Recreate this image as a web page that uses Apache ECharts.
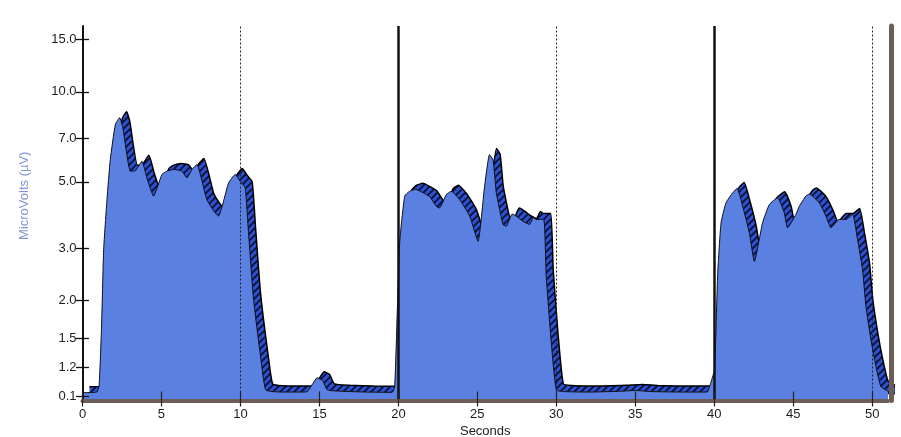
<!DOCTYPE html>
<html>
<head>
<meta charset="utf-8">
<script src="https://cdn.jsdelivr.net/npm/echarts@6/dist/echarts.min.js"></script>
<style>
  html, body { margin: 0; padding: 0; background: #fff; }
  #chart { width: 901px; height: 437px; }
</style>
</head>
<body>
<div id="chart"></div>
<script>
// 数据
var timeSec = [0, 0.9, 1.05, 1.2, 1.34, 1.55, 1.76, 2.08, 2.35, 2.55, 3.03, 3.35, 3.76, 4.1, 4.5, 5.03, 5.34, 5.8, 6.29, 6.61,
    6.93, 7.24, 7.87, 8.3, 8.61, 9.25, 9.67, 9.98, 10.3, 10.51, 10.83, 11.35, 11.6, 12.2, 13.5, 14.2, 14.6, 14.85, 15.2, 15.5,
    16.5, 18.0, 19.6, 19.77, 20.08, 20.4, 20.71, 21.1, 21.56, 22.0, 22.4, 22.61, 23.03, 23.35, 23.88, 24.51, 25.04, 25.46, 25.77, 26.0,
    26.2, 26.62, 26.83, 27.2, 27.46, 27.88, 28.3, 28.55, 28.73, 29.2, 29.36, 29.68, 30.0, 30.5, 32.0, 34.0, 35.0, 36.0, 38.0, 39.55,
    39.7, 40.01, 40.22, 40.43, 40.74, 41.17, 41.45, 41.8, 42.22, 42.54, 43.06, 43.49, 44.01, 44.43, 44.64, 45.17, 45.38, 45.8, 46.02, 46.65,
    47.07, 47.39, 47.91, 48.33, 48.76, 49.07, 49.39, 49.6, 49.92, 50.23, 50.55, 50.86, 51.0];
var microVolts = [0.25, 0.27, 0.5, 1.6, 2.97, 4.36, 5.94, 7.78, 8.2, 7.6, 5.43, 5.45, 5.86, 5.1, 4.48, 5.29, 5.43, 5.5, 5.43, 5.16,
    5.5, 5.71, 4.36, 4.0, 3.84, 4.96, 5.29, 5.02, 4.77, 3.38, 2.02, 1.21, 0.35, 0.28, 0.27, 0.28, 0.6, 0.8, 0.7, 0.35,
    0.3, 0.27, 0.26, 0.47, 3.12, 4.48, 4.65, 4.72, 4.6, 4.45, 4.14, 4.09, 4.53, 4.65, 4.36, 3.84, 3.16, 4.84, 6.17, 5.9,
    4.6, 3.6, 3.55, 3.9, 3.84, 3.69, 3.6, 3.8, 3.74, 3.74, 2.42, 1.45, 0.35, 0.29, 0.27, 0.3, 0.33, 0.29, 0.27, 0.27,
    0.47, 1.1, 2.48, 3.65, 4.25, 4.6, 4.75, 4.14, 3.38, 2.71, 3.65, 4.2, 4.42, 3.94, 3.51, 3.89, 4.14, 4.48, 4.55, 4.25,
    3.84, 3.51, 3.74, 3.74, 3.89, 3.21, 2.54, 1.92, 1.48, 1.21, 0.47, 0.35, 0.3];
var yTicks = [0.1, 1.2, 1.5, 2.0, 3.0, 5.0, 7.0, 10.0, 15.0];
var xTicks = [0, 5, 10, 15, 20, 25, 30, 35, 40, 45, 50];
var dottedAt = [10, 30, 50];
var solidAt = [20, 40];

// 纵轴刻度：1.2以上为对数，以下压缩成一小段
function toAxis(v) {
    var base = Math.log10(1.2);
    if (v >= 1.2) return Math.log10(v);
    return base - (1.2 - v) / 1.1 * 0.0994;
}
function yLabel(val) {
    for (var i = 0; i < yTicks.length; i++) {
        if (Math.abs(toAxis(yTicks[i]) - val) < 1e-6) return yTicks[i].toFixed(1);
    }
    return '';
}

var seriesData = [];
for (var i = 0; i < timeSec.length; i++) {
    seriesData.push([timeSec[i], toAxis(microVolts[i])]);
}

var yMin = -0.033, yMax = 1.2206;
var xMin = 0, xMax = 51;
var yTickPos = yTicks.map(toAxis);

// 立体边的斜纹
var pc = document.createElement('canvas');
pc.width = 7; pc.height = 7;
var pctx = pc.getContext('2d');
pctx.fillStyle = '#2c50d4';
pctx.fillRect(0, 0, 7, 7);
pctx.strokeStyle = '#0b0f2a';
pctx.lineWidth = 1.6;
pctx.beginPath();
pctx.moveTo(0, 7); pctx.lineTo(7, 0);
pctx.moveTo(-1, 1); pctx.lineTo(1, -1);
pctx.moveTo(6, 8); pctx.lineTo(8, 6);
pctx.stroke();

var labelFont = {fontFamily: 'Liberation Sans, Arial', fontSize: 13, color: '#1c1c1c'};

var markData = [];
dottedAt.forEach(function (x) {
    markData.push({xAxis: x, lineStyle: {type: [2, 2], width: 1, color: '#222'}});
});
solidAt.forEach(function (x) {
    markData.push({xAxis: x, lineStyle: {type: 'solid', width: 2.5, color: '#111'}});
});

var chart = echarts.init(document.getElementById('chart'));
var option = {
    animation: false,
    grid: [
        {left: 82.5, right: 13, top: 26, bottom: 36.5, outerBoundsMode: 'none'},
        {left: 89.5, right: 6, top: 20, bottom: 42.5, outerBoundsMode: 'none'}
    ],
    xAxis: [
        {
            type: 'value', gridIndex: 0, position: 'bottom', min: xMin, max: xMax, z: 10,
            name: 'Seconds', nameLocation: 'middle', nameGap: 20,
            nameTextStyle: labelFont,
            axisLine: {onZero: false, lineStyle: {color: '#6d5d57', width: 4}},
            axisTick: {customValues: xTicks, length: 6, lineStyle: {color: '#222', width: 1.2}},
            axisLabel: Object.assign({customValues: xTicks, margin: 7}, labelFont),
            splitLine: {show: false}
        },
        {
            type: 'value', gridIndex: 0, position: 'bottom', min: xMin, max: xMax, z: 10,
            axisLine: {show: false, onZero: false},
            axisTick: {customValues: xTicks, inside: true, length: 9, lineStyle: {color: '#222', width: 1.2}},
            axisLabel: {show: false},
            splitLine: {show: false}
        },
        {
            type: 'value', gridIndex: 1, min: xMin, max: xMax, show: false
        }
    ],
    yAxis: [
        {
            type: 'value', gridIndex: 0, position: 'left', min: yMin, max: yMax, z: 10,
            name: 'MicroVolts (\u00b5V)', nameLocation: 'middle', nameGap: 52,
            nameTextStyle: {fontFamily: 'Liberation Sans, Arial', fontSize: 13, color: '#8396d6', padding: [0, 0, 0, 35]},
            axisLine: {show: true, onZero: false, lineStyle: {color: '#111', width: 2}},
            axisTick: {customValues: yTickPos, length: 6.5, lineStyle: {color: '#111', width: 1.3}},
            axisLabel: Object.assign({customValues: yTickPos, margin: 6, formatter: yLabel}, labelFont),
            splitLine: {show: false}
        },
        {
            type: 'value', gridIndex: 0, position: 'left', min: yMin, max: yMax, z: 10,
            axisLine: {show: false, onZero: false},
            axisTick: {customValues: yTickPos, inside: true, length: 6.5, lineStyle: {color: '#111', width: 1.3}},
            axisLabel: {show: false},
            splitLine: {show: false}
        },
        {
            type: 'value', gridIndex: 0, position: 'right', offset: 3, min: yMin, max: yMax, z: 10,
            axisLine: {show: true, onZero: false, lineStyle: {color: '#6d5d57', width: 5}},
            axisTick: {show: false},
            axisLabel: {show: false},
            splitLine: {show: false}
        },
        {
            type: 'value', gridIndex: 1, min: yMin, max: yMax, show: false
        }
    ],
    series: [
        {
            // 后面的立体边
            type: 'line', xAxisIndex: 2, yAxisIndex: 3,
            data: seriesData, showSymbol: false, smooth: 0.15,
            lineStyle: {color: '#000', width: 1.5},
            areaStyle: {color: {image: pc, repeat: 'repeat'}, opacity: 1, origin: 'start'},
            z: 1
        },
        {
            type: 'line', xAxisIndex: 0, yAxisIndex: 0,
            data: seriesData, showSymbol: false, smooth: 0.15,
            lineStyle: {color: '#111', width: 1},
            areaStyle: {color: '#5a80e2', opacity: 1, origin: 'start'},
            markLine: {symbol: 'none', silent: true, label: {show: false}, data: markData},
            z: 2
        }
    ]
};
chart.setOption(option);
</script>
</body>
</html>
